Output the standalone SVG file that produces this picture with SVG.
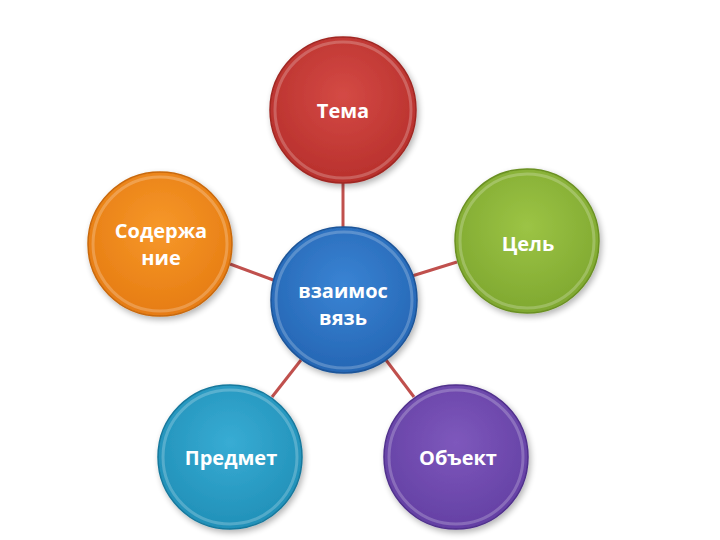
<svg xmlns="http://www.w3.org/2000/svg" width="720" height="540" viewBox="0 0 720 540">
<style>
.lbl{font-family:"Open Sans","Noto Sans","DejaVu Sans",sans-serif;font-weight:bold;font-size:20px;fill:#ffffff;text-anchor:middle;dominant-baseline:central}
.conn{stroke:#c0504d;stroke-width:3;fill:none}
.rim{fill:none;stroke:#ffffff;stroke-opacity:0.22;stroke-width:3}
</style>
<defs>
<filter id="sh" x="-20%" y="-20%" width="150%" height="150%">
<feGaussianBlur in="SourceAlpha" stdDeviation="3"/>
<feOffset dx="2" dy="3" result="b"/>
<feComponentTransfer><feFuncA type="linear" slope="0.3"/></feComponentTransfer>
<feMerge><feMergeNode/><feMergeNode in="SourceGraphic"/></feMerge>
</filter>
<radialGradient id="gRed" cx="50%" cy="40%" r="60%"><stop offset="0" stop-color="#d44a45"/><stop offset="1" stop-color="#b8302c"/></radialGradient>
<radialGradient id="gBlue" cx="50%" cy="40%" r="60%"><stop offset="0" stop-color="#3a84d4"/><stop offset="1" stop-color="#2566b4"/></radialGradient>
<radialGradient id="gOrange" cx="50%" cy="40%" r="60%"><stop offset="0" stop-color="#f7982a"/><stop offset="1" stop-color="#e67c12"/></radialGradient>
<radialGradient id="gGreen" cx="50%" cy="40%" r="60%"><stop offset="0" stop-color="#9cc445"/><stop offset="1" stop-color="#7fa830"/></radialGradient>
<radialGradient id="gTeal" cx="50%" cy="40%" r="60%"><stop offset="0" stop-color="#38acd4"/><stop offset="1" stop-color="#2190b8"/></radialGradient>
<radialGradient id="gPurple" cx="50%" cy="40%" r="60%"><stop offset="0" stop-color="#7e58bc"/><stop offset="1" stop-color="#6440a4"/></radialGradient>
</defs>
<rect width="720" height="540" fill="#ffffff"/>
<g id="connectors">
<line class="conn" x1="343" y1="183" x2="343" y2="228"/>
<line class="conn" x1="412" y1="276" x2="457" y2="262"/>
<line class="conn" x1="276" y1="281" x2="230" y2="264"/>
<line class="conn" x1="301" y1="360" x2="272" y2="397"/>
<line class="conn" x1="386" y1="360" x2="414" y2="397"/>
</g>
<g id="tema">
<circle cx="343" cy="110" r="73" fill="url(#gRed)" stroke="#a02824" stroke-width="1.5" filter="url(#sh)"/>
<circle class="rim" cx="343" cy="110" r="68"/>
<text class="lbl" x="343" y="110">Тема</text>
</g>
<g id="soderzhanie">
<circle cx="160" cy="244" r="72" fill="url(#gOrange)" stroke="#c8680a" stroke-width="1.5" filter="url(#sh)"/>
<circle class="rim" cx="160" cy="244" r="67"/>
<text class="lbl" x="161" y="230">Содержа</text>
<text class="lbl" x="161" y="257">ние</text>
</g>
<g id="tsel">
<circle cx="527" cy="241" r="72" fill="url(#gGreen)" stroke="#6a9022" stroke-width="1.5" filter="url(#sh)"/>
<circle class="rim" cx="527" cy="241" r="67"/>
<text class="lbl" x="528" y="243">Цель</text>
</g>
<g id="vzaimosvyaz">
<circle cx="344" cy="300" r="73" fill="url(#gBlue)" stroke="#1c5498" stroke-width="1.5" filter="url(#sh)"/>
<circle class="rim" cx="344" cy="300" r="68"/>
<text class="lbl" x="343" y="290">взаимос</text>
<text class="lbl" x="343" y="317">вязь</text>
</g>
<g id="predmet">
<circle cx="230" cy="457" r="72" fill="url(#gTeal)" stroke="#17789c" stroke-width="1.5" filter="url(#sh)"/>
<circle class="rim" cx="230" cy="457" r="67"/>
<text class="lbl" x="231" y="457">Предмет</text>
</g>
<g id="obekt">
<circle cx="456" cy="457" r="72" fill="url(#gPurple)" stroke="#50308c" stroke-width="1.5" filter="url(#sh)"/>
<circle class="rim" cx="456" cy="457" r="67"/>
<text class="lbl" x="458" y="457">Объект</text>
</g>
</svg>
